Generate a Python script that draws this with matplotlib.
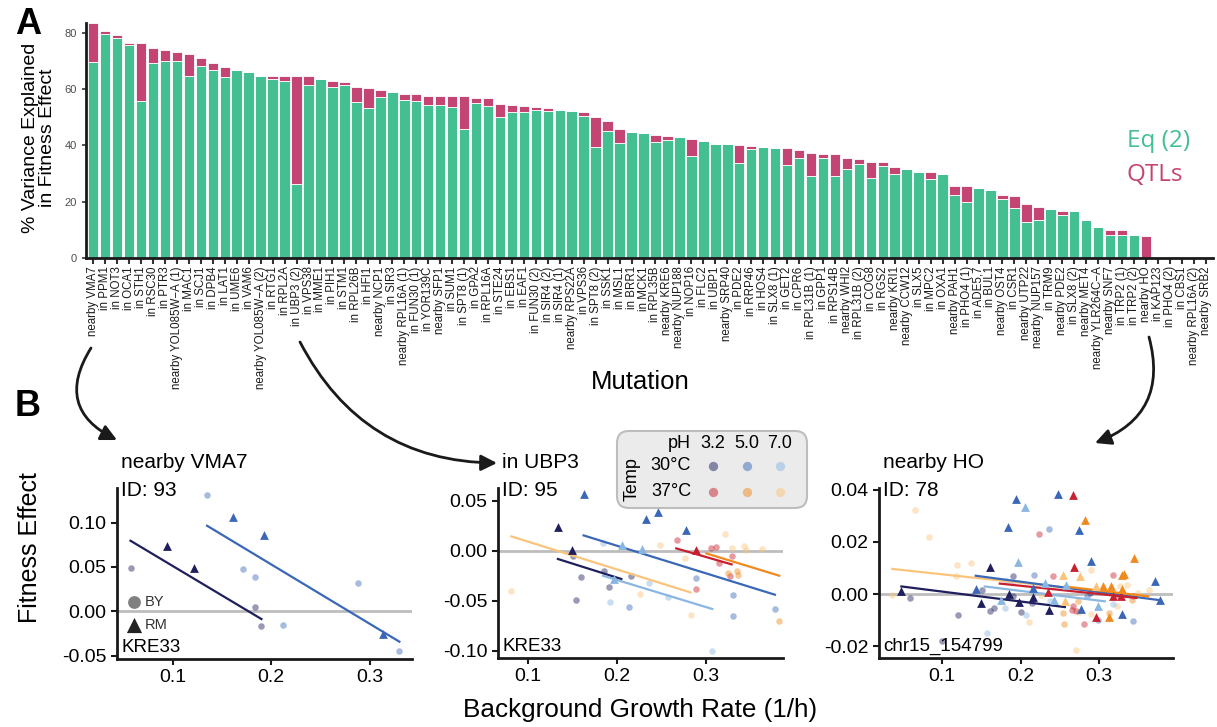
import numpy as np
import matplotlib
matplotlib.use('Agg')
from matplotlib import pyplot as plt
from matplotlib.patches import FancyBboxPatch

plt.rcParams['font.family'] = ['Liberation Sans', 'DejaVu Sans']

W, H = 1217, 727

# ---------------- panel A data ----------------
mutations = ['nearby VMA7', 'in PPM1', 'in NOT3', 'in OCA1', 'in STH1', 'in RSC30', 'in PTR3',
             'nearby YOL085W\u2212A (1)', 'in MAC1', 'in SCJ1', 'in DPB4', 'in LAT1', 'in UME6',
             'in VAM6', 'nearby YOL085W\u2212A (2)', 'in RTG1', 'in RPL2A', 'in UBP3 (2)', 'in VPS38',
             'in MME1', 'in PIH1', 'in STM1', 'in RPL26B', 'in HFI1', 'nearby NCP1', 'in SIR3',
             'nearby RPL16A (1)', 'in FUN30 (1)', 'in YOR139C', 'nearby SFP1', 'in SUM1',
             'in SPT8 (1)', 'in GPA2', 'in RPL16A', 'in STE24', 'in EBS1', 'in EAF1', 'in FUN30 (2)',
             'in SIR4 (2)', 'in SIR4 (1)', 'nearby RPS22A', 'in VPS36', 'in SPT8 (2)', 'in SSK1',
             'in MSL1', 'in BRR1', 'in MCK1', 'in RPL35B', 'nearby KRE6', 'nearby NUP188', 'in NOP16',
             'in FLC2', 'in UBP1', 'nearby SRP40', 'in PDE2', 'in RRP46', 'in HOS4', 'in SLX8 (1)',
             'in GET2', 'in CPR6', 'in RPL31B (1)', 'in GPP1', 'in RPS14B', 'nearby WHI2',
             'in RPL31B (2)', 'in COG8', 'in RGS2', 'nearby KRI1', 'nearby CCW12', 'in SLX5',
             'in MPC2', 'in OXA1', 'nearby PAH1', 'in PHO4 (1)', 'in ADE5,7', 'in BUL1',
             'nearby OST4', 'in CSR1', 'nearby UTP22', 'nearby NUP157', 'in TRM9', 'nearby PDE2',
             'in SLX8 (2)', 'nearby MET4', 'nearby YLR264C\u2212A', 'nearby SNF7', 'in TRP2 (1)',
             'in TRP2 (2)', 'nearby HO', 'in KAP123', 'in PHO4 (2)', 'in CBS1',
             'nearby RPL16A (2)', 'nearby SRB2']
eq2_var = [69.6, 79.6, 78.3, 75.7, 55.8, 69.2, 69.9, 69.9, 64.8, 68.1, 66.7, 64.2, 66.8, 66.2,
           64.8, 63.5, 63.0, 26.3, 61.6, 63.6, 60.9, 61.6, 55.4, 53.2, 57.1, 59.1, 56.1, 55.8,
           54.2, 54.2, 53.5, 45.7, 55.2, 54.0, 50.0, 52.0, 52.0, 52.7, 52.4, 52.6, 52.3, 50.3,
           39.4, 45.2, 40.8, 44.8, 44.3, 41.2, 42.0, 43.1, 36.1, 41.7, 40.5, 40.5, 33.9, 38.6,
           39.6, 39.2, 32.9, 35.4, 29.3, 35.6, 29.0, 31.5, 33.4, 28.4, 32.8, 29.8, 31.5, 30.7,
           28.0, 30.0, 22.4, 19.8, 24.9, 24.2, 20.9, 17.9, 12.7, 13.5, 17.4, 15.2, 16.7, 13.5,
           11.0, 8.3, 8.3, 8.3, 0.0, 0.0, 0.0, 0.0, 0.0, 0.0]
total_var = [83.4, 80.7, 79.2, 76.4, 76.3, 74.6, 74.0, 73.2, 72.5, 71.2, 69.4, 67.9, 66.8, 66.2,
             64.8, 64.7, 64.5, 64.5, 64.5, 63.6, 62.9, 62.5, 60.9, 60.4, 59.7, 59.1, 58.4, 58.3,
             57.7, 57.5, 57.5, 57.4, 57.0, 56.8, 54.8, 54.4, 53.9, 53.8, 53.4, 52.6, 52.3, 51.8,
             50.1, 48.8, 45.7, 44.8, 44.3, 43.7, 43.4, 43.1, 42.3, 41.7, 40.5, 40.5, 40.2, 39.9,
             39.6, 39.2, 39.0, 38.2, 37.3, 36.9, 36.9, 35.6, 35.2, 34.1, 34.0, 32.4, 31.5, 30.7,
             30.5, 30.0, 25.7, 25.6, 24.9, 24.2, 22.4, 21.9, 19.3, 18.0, 17.4, 16.7, 16.7, 13.5,
             11.0, 10.0, 9.9, 8.3, 7.8, 0.0, 0.0, 0.0, 0.0, 0.0]

# ---------------- panel B data ----------------
cond_colors = {'30_3.2': '#1f1f5e', '30_5.0': '#3a68b7', '30_7.0': '#8ab6e2',
               '37_3.2': '#c8202f', '37_5.0': '#f08a1e', '37_7.0': '#fbc47c'}

# nearby VMA7
p1_x = [0.135, 0.1617, 0.1932, 0.0939, 0.122, 0.0576, 0.1718, 0.1837, 0.1837, 0.1898, 0.2119,
        0.2882, 0.3136, 0.3302]
p1_y = [0.1306, 0.1065, 0.0859, 0.0739, 0.0488, 0.0484, 0.0476, 0.039, 0.0052, -0.0162, -0.0154,
        0.0315, -0.0256, -0.0447]
p1_cond = ['30_5.0', '30_5.0', '30_5.0', '30_3.2', '30_3.2', '30_3.2', '30_5.0', '30_5.0',
           '30_3.2', '30_3.2', '30_5.0', '30_5.0', '30_5.0', '30_5.0']
p1_geno = ['BY', 'RM', 'RM', 'RM', 'RM', 'BY', 'BY', 'BY', 'BY', 'BY', 'BY', 'BY', 'RM', 'BY']
p1_line_cond = ['30_3.2', '30_5.0']
p1_line_x = [(0.0573, 0.1902), (0.135, 0.3302)]
p1_line_y = [(0.0795, -0.0087), (0.0964, -0.0342)]

# in UBP3
p2_x = [0.1336, 0.1624, 0.2327, 0.2462, 0.2776, 0.1493, 0.2054, 0.2278, 0.196, 0.288,
        0.081, 0.1538, 0.1598, 0.1504, 0.1852, 0.1908, 0.2159, 0.1841, 0.1916, 0.2129, 0.2353,
        0.2256, 0.2477, 0.2574, 0.2667, 0.2757, 0.2827, 0.2888, 0.288, 0.3056, 0.3104, 0.3213,
        0.3141, 0.3269, 0.3284, 0.3242, 0.3347, 0.3354, 0.3291, 0.3422, 0.3441, 0.3628, 0.3298,
        0.3302, 0.3769, 0.3818, 0.3067]
p2_y = [0.0237, 0.0563, 0.032, 0.0383, 0.021, 0.001, 0.006, 0.0017, -0.0283, 0.001,
        -0.0407, -0.049, -0.026, -0.0057, -0.02, -0.0367, -0.0257, 0.0073, -0.0517, -0.0563,
        -0.032, -0.0437, 0.006, -0.0463, 0.0107, -0.0077, -0.064, -0.027, -0.0383, 0.0027, 0.004,
        0.0167, -0.0127, -0.0257, -0.0053, -0.0223, -0.0207, -0.0243, 0.0027, 0.005, 0.0003,
        0.002, -0.044, -0.0657, -0.058, -0.0703, -0.1]
p2_cond = ['30_3.2', '30_5.0', '30_5.0', '30_5.0', '30_5.0', '30_3.2', '30_7.0', '30_7.0',
           '30_7.0', '37_3.2',
           '37_7.0', '30_3.2', '30_3.2', '30_3.2', '30_3.2', '30_3.2', '30_3.2', '30_7.0', '30_7.0',
           '30_5.0', '30_7.0', '37_7.0', '37_7.0', '30_7.0', '37_3.2', '37_7.0', '37_7.0', '30_5.0',
           '37_3.2', '37_3.2', '37_3.2', '37_7.0', '37_3.2', '37_3.2', '37_3.2', '37_5.0', '37_5.0',
           '37_5.0', '37_7.0', '37_7.0', '37_7.0', '37_7.0', '30_5.0', '30_5.0', '30_5.0', '37_5.0',
           '30_7.0']
p2_geno = ['RM'] * 10 + ['BY'] * 37
p2_line_cond = ['37_7.0', '30_3.2', '30_5.0', '30_7.0', '37_3.2', '37_5.0']
p2_line_x = [(0.0814, 0.2821), (0.1336, 0.2047), (0.1624, 0.3769), (0.1841, 0.3067),
             (0.2663, 0.3284), (0.30, 0.3818)]
p2_line_y = [(0.0143, -0.0417), (-0.0083, -0.0283), (0.0153, -0.044), (-0.025, -0.0583),
             (0.0023, -0.0137), (-0.0027, -0.025)]

# nearby HO
p3_x = [0.0482, 0.1607, 0.1493, 0.198, 0.2159, 0.2359, 0.1849,
        0.1938, 0.1845, 0.2482, 0.2745, 0.289, 0.3709, 0.3777, 0.1429, 0.2159, 0.2775, 0.3297,
        0.2053, 0.1972, 0.1756, 0.2427, 0.2987, 0.2584, 0.2308,
        0.2669, 0.2682, 0.2966, 0.3178, 0.3276, 0.235,
        0.2817, 0.3442, 0.3285, 0.3314, 0.3127, 0.3051, 0.3157, 0.3285,
        0.2541, 0.2754, 0.2563, 0.2966,
        0.066, 0.083, 0.0367, 0.1195, 0.1374, 0.1183, 0.2104, 0.2265, 0.2703, 0.2745, 0.2902,
        0.3221, 0.3348, 0.3263, 0.3497, 0.3633, 0.2894,
        0.0597, 0.1208, 0.1, 0.151, 0.1616, 0.1662, 0.1904, 0.2011, 0.2151, 0.1904, 0.2881,
        0.1569, 0.1807, 0.2066, 0.2372, 0.317, 0.1896, 0.182,
        0.2172, 0.2355, 0.2839, 0.2987, 0.3425,
        0.2231, 0.2414, 0.2669, 0.2656, 0.2805, 0.2703, 0.3178, 0.3242, 0.3433,
        0.2554, 0.2541, 0.2732, 0.3127, 0.3412]
p3_y = [0.0013, 0.0103, -0.0034, -0.0032, -0.0011, -0.0063, 0.0001,
        0.0364, 0.0257, 0.0383, 0.0246, 0.0125, 0.0051, -0.0022, 0.0019, 0.0023, -0.0056, -0.0077,
        0.0332, 0.0121, -0.0022, -0.0022, -0.0047, 0.0033, 0.0042,
        0.0379, 0.0103, -0.0089, -0.0009, -0.0006, 0.0008,
        0.0285, 0.0138, 0.0074, 0.0078, -0.0088, 0.0029, 0.0029, 0.0019,
        0.0072, 0.0068, -0.0028, 0.0029,
        0.0323, 0.0218, -0.0003, 0.0112, 0.0119, 0.0068, -0.0107, -0.0003, -0.0216, -0.007, 0.0093,
        -0.0047, 0.0033, 0.0029, 0.0004, 0.0017, -0.0075,
        -0.0015, -0.0079, -0.0181, 0.0014, -0.0066, -0.0054, 0.0068, -0.007, -0.0034, -0.0009,
        0.0004,
        -0.0149, -0.0054, -0.0082, -0.0028, -0.0038, 0.0045, 0.0049,
        0.0074, 0.025, -0.0009, -0.0098, -0.0105,
        0.023, 0.0068, -0.0047, -0.006, -0.0114, -0.0066, 0.0072, -0.0005, -0.0009,
        -0.0114, -0.0073, -0.0028, -0.0073, -0.0022]
p3_cond = (['30_3.2'] * 7 + ['30_5.0'] * 11 + ['30_7.0'] * 7 + ['37_3.2'] * 6 + ['37_5.0'] * 8
           + ['37_7.0'] * 4 + ['37_7.0'] * 17 + ['30_3.2'] * 11 + ['30_7.0'] * 7 + ['30_5.0'] * 5
           + ['37_3.2'] * 9 + ['37_5.0'] * 5)
p3_geno = ['RM'] * 43 + ['BY'] * 54
p3_line_cond = ['37_7.0', '30_3.2', '30_5.0', '30_7.0', '37_3.2', '37_5.0']
p3_line_x = [(0.0367, 0.3624), (0.0482, 0.2563), (0.1429, 0.3781), (0.1544, 0.3072),
             (0.1735, 0.3476), (0.2563, 0.3624)]
p3_line_y = [(0.0096, -0.0009), (0.0029, -0.005), (0.007, -0.0024), (0.0029, -0.0028),
             (0.004, -0.0015), (0.0029, -0.0009)]

GREEN = '#43bf91'
PINK = '#c44574'

fig = plt.figure(figsize=(W / 100, H / 100), dpi=100)


def px_axes(l, t, r, b):
    return fig.add_axes([l / W, 1 - b / H, (r - l) / W, (b - t) / H])


# ---------------- panel A ----------------
axA = px_axes(86, 23, 1213, 258)
xs = np.arange(len(mutations))
eq2 = np.array(eq2_var)
qtl = np.array(total_var) - eq2
axA.bar(xs, eq2, width=0.88, color=GREEN, edgecolor='white', linewidth=0.6)
axA.bar(xs, qtl, bottom=eq2, width=0.88, color=PINK, edgecolor='white', linewidth=0.6)
axA.set_xlim(-0.6, len(mutations) - 0.4)
axA.set_ylim(0, 83.5)
axA.set_xticks(xs)
axA.set_xticklabels(mutations, rotation=90, fontsize=8.3, ha='center', va='top', color='#1a1a1a')
axA.set_yticks([0, 20, 40, 60, 80])
axA.tick_params(axis='y', labelsize=8, labelcolor='#4d4d4d', length=3, width=1.2, color='#333333')
axA.tick_params(axis='x', length=4, width=1.5, color='#333333', pad=2)
for s in ['top', 'right']:
    axA.spines[s].set_visible(False)
for s in ['left', 'bottom']:
    axA.spines[s].set_linewidth(2)
    axA.spines[s].set_color('#1a1a1a')
fig.text(640 / W, 1 - 382 / H, 'Mutation', fontsize=18.5, ha='center', va='center')
fig.text(39 / W, 1 - 138 / H, '% Variance Explained\nin Fitness Effect', rotation=90,
         ha='center', va='center', fontsize=14, linespacing=1.0)
fig.text(1127 / W, 1 - 141 / H, 'Eq (2)', color=GREEN, fontsize=17.5, va='center',
         family=['Open Sans', 'DejaVu Sans'])
fig.text(1127 / W, 1 - 175 / H, 'QTLs', color=PINK, fontsize=17.5, va='center',
         family=['Open Sans', 'DejaVu Sans'])


# ---------------- panel B ----------------
def fitness_panel(box, xs, ys, conds, genos, lcond, lx, ly, xlim, ylim, yticks, fmt,
                  title, gene):
    ax = px_axes(*box)
    ax.axhline(0, color='#bdbdbd', lw=2, zorder=1)
    for x, y, c, g in zip(xs, ys, conds, genos):
        if g == 'BY':
            ax.scatter(x, y, s=22, color=cond_colors[c], alpha=0.45, lw=0, zorder=2)
    for c, (x0, x1), (y0, y1) in zip(lcond, lx, ly):
        ax.plot([x0, x1], [y0, y1], color=cond_colors[c], lw=1.6, zorder=3)
    for x, y, c, g in zip(xs, ys, conds, genos):
        if g == 'RM':
            ax.scatter(x, y, s=40, marker='^', color=cond_colors[c], lw=0, zorder=4)
    ax.set_xlim(*xlim)
    ax.set_ylim(*ylim)
    ax.set_xticks([0.1, 0.2, 0.3])
    ax.set_xticklabels(['0.1', '0.2', '0.3'])
    ax.set_yticks(yticks)
    ax.set_yticklabels([fmt % v for v in yticks])
    ax.tick_params(labelsize=14, length=4, width=1.5, color='#1a1a1a')
    for s in ['top', 'right']:
        ax.spines[s].set_visible(False)
    for s in ['left', 'bottom']:
        ax.spines[s].set_linewidth(2)
        ax.spines[s].set_color('#1a1a1a')
    fig.text((box[0] + 4) / W, 1 - 463 / H, title, fontsize=15, va='center')
    fig.text((box[0] + 4) / W, 1 - 491 / H, 'ID: ' + gene[0], fontsize=15, va='center')
    ax.text(0.015, 0.02, gene[1], transform=ax.transAxes, fontsize=13.5, va='bottom')
    return ax


ax1 = fitness_panel((117, 488, 412, 659), p1_x, p1_y, p1_cond, p1_geno, p1_line_cond,
                    p1_line_x, p1_line_y, (0.0436, 0.343), (-0.0537, 0.1389),
                    [-0.05, 0.0, 0.05, 0.10], '%.2f', 'nearby VMA7', ('93', 'KRE33'))
ax2 = fitness_panel((498, 488, 783, 658), p2_x, p2_y, p2_cond, p2_geno, p2_line_cond,
                    p2_line_x, p2_line_y, (0.0664, 0.386), (-0.1073, 0.0627),
                    [-0.10, -0.05, 0.0, 0.05], '%.2f', 'in UBP3', ('95', 'KRE33'))
ax3 = fitness_panel((879, 488, 1173, 658), p3_x, p3_y, p3_cond, p3_geno, p3_line_cond,
                    p3_line_x, p3_line_y, (0.0197, 0.394), (-0.0245, 0.0406),
                    [-0.02, 0.0, 0.02, 0.04], '%.2f', 'nearby HO', ('78', 'chr15_154799'))

# genotype key inside first panel
ax1.scatter([0.0605], [0.011], s=85, color='#808080', lw=0, clip_on=False)
ax1.text(0.072, 0.011, 'BY', fontsize=10.5, va='center', color='#333333')
ax1.scatter([0.0605], [-0.0155], s=120, marker='^', color='#222222', lw=0, clip_on=False)
ax1.text(0.072, -0.0155, 'RM', fontsize=10.5, va='center', color='#333333')

fig.text(30 / W, 1 - 548 / H, 'Fitness Effect', rotation=90, ha='center', va='center', fontsize=18)
fig.text(640 / W, 1 - 710 / H, 'Background Growth Rate (1/h)', ha='center', va='center',
         fontsize=18.8)

fig.text(28 / W, 1 - 24 / H, 'A', fontsize=26, fontweight='bold', ha='center', va='center')
fig.text(28 / W, 1 - 407 / H, 'B', fontsize=26, fontweight='bold', ha='center', va='center')

# overlay in pixel units for arrows and condition key
ov = fig.add_axes([0, 0, 1, 1], zorder=10)
ov.set_xlim(0, W)
ov.set_ylim(H, 0)
ov.axis('off')
ov.patch.set_alpha(0)

arrow = dict(arrowstyle='-|>', lw=2, color='#1a1a1a', mutation_scale=24, shrinkA=0, shrinkB=0)
ov.annotate('', xy=(117, 440), xytext=(91, 348),
            arrowprops=dict(connectionstyle='arc3,rad=0.55', **arrow))
ov.annotate('', xy=(497, 463), xytext=(300, 342),
            arrowprops=dict(connectionstyle='arc3,rad=0.3', **arrow))
ov.annotate('', xy=(1095, 443), xytext=(1149, 337),
            arrowprops=dict(connectionstyle='arc3,rad=-0.45', **arrow))

ov.add_patch(FancyBboxPatch((617, 431), 190, 77, boxstyle='round,pad=0,rounding_size=12',
                            facecolor='#ebebeb', edgecolor='#bdbdbd', lw=1.5))
ph_cols = ['3.2', '5.0', '7.0']
temp_rows = ['30', '37']
col_x = [713, 747, 780]
row_y = [466, 492]
ov.text(691, 443, 'pH', fontsize=13, ha='right', va='center')
for cx, ph in zip(col_x, ph_cols):
    ov.text(cx, 443, ph, fontsize=13, ha='center', va='center')
for ry, t in zip(row_y, temp_rows):
    ov.text(691, ry, t + '\u00b0C', fontsize=13, ha='right', va='center')
    for cx, ph in zip(col_x, ph_cols):
        ov.scatter(cx, ry, s=45, color=cond_colors[t + '_' + ph], alpha=0.5, lw=0)
ov.text(632, 479, 'Temp', fontsize=13, rotation=90, ha='center', va='center')

fig.savefig('out.png', dpi=100)
